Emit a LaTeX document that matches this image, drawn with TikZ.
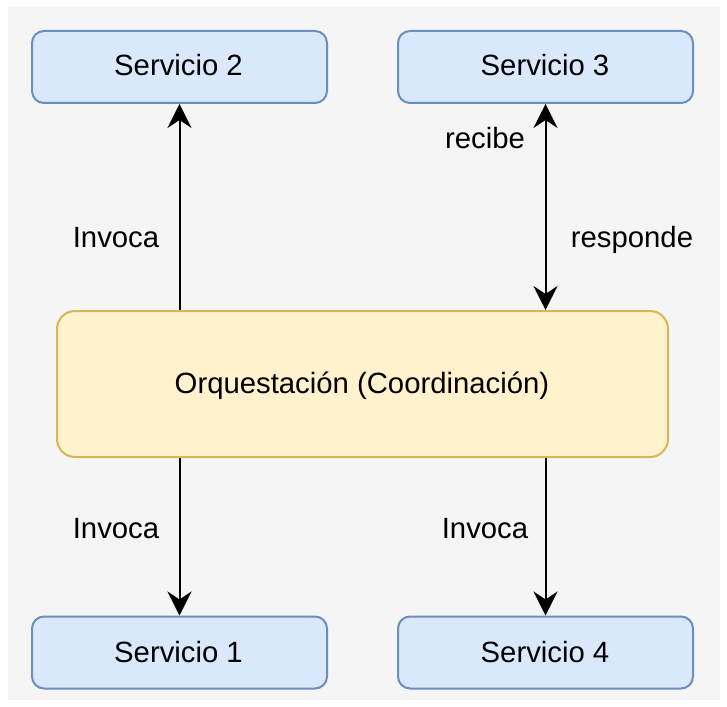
\documentclass[tikz,border=0pt]{standalone}
\usepackage{fontspec}
\setmainfont{Liberation Sans}
\usetikzlibrary{arrows.meta}
\definecolor{bgc}{HTML}{F5F5F5}
\definecolor{bfill}{HTML}{DAE8FC}
\definecolor{bdraw}{HTML}{6C8EBF}
\definecolor{yfill}{HTML}{FFF2CC}
\definecolor{ydraw}{HTML}{D6B656}
\tikzset{
  svc/.style={draw=bdraw, fill=bfill, line width=2pt, rounded corners=12pt, minimum width=295pt, minimum height=72pt, inner sep=0pt},
  orch/.style={draw=ydraw, fill=yfill, line width=2pt, rounded corners=18pt, minimum width=611pt, minimum height=146pt, inner sep=0pt},
  lbl/.style={inner sep=0pt, anchor=base},
  tip/.tip={Stealth[length=24pt,width=24pt,inset=8pt]},
  arr/.style={line width=2pt, -tip},
  darr/.style={line width=2pt, tip-tip}
}
\begin{document}
\begin{tikzpicture}[x=1pt,y=-1pt, font=\fontsize{29.3}{35}\selectfont]
\useasboundingbox (0,0) rectangle (727,706);
\fill[bgc] (8,7) rectangle (720,700);
\node[svc] (s2) at (179.5,67) {};
\node[svc] (s3) at (545.5,67) {};
\node[svc] (s1) at (179.5,652.5) {};
\node[svc] (s4) at (545.5,652.5) {};
\node[orch] (o) at (362.5,384) {};
\node[lbl] (t2) at (178.5,76) {Servicio 2};
\node[lbl] (t3) at (545,76) {Servicio 3};
\node[lbl] (t1) at (178.5,662) {Servicio 1};
\node[lbl] (t4) at (545,662) {Servicio 4};
\node[lbl] (to) at (362,393.5) {Orquestación (Coordinación)};
\draw[arr] (s2.south |- o.north) -- (s2.south);
\draw[darr] (s3.south) -- (s3.south |- o.north);
\draw[arr] (s1.north |- o.south) -- (s1.north);
\draw[arr] (s4.north |- o.south) -- (s4.north);
\node[lbl] (l1) at (116,247.5) {Invoca};
\node[lbl] (l2) at (485,148) {recibe};
\node[lbl] (l3) at (632,247.5) {responde};
\node[lbl] (l4) at (116,538.5) {Invoca};
\node[lbl] (l5) at (485,538.5) {Invoca};
\end{tikzpicture}
\end{document}
